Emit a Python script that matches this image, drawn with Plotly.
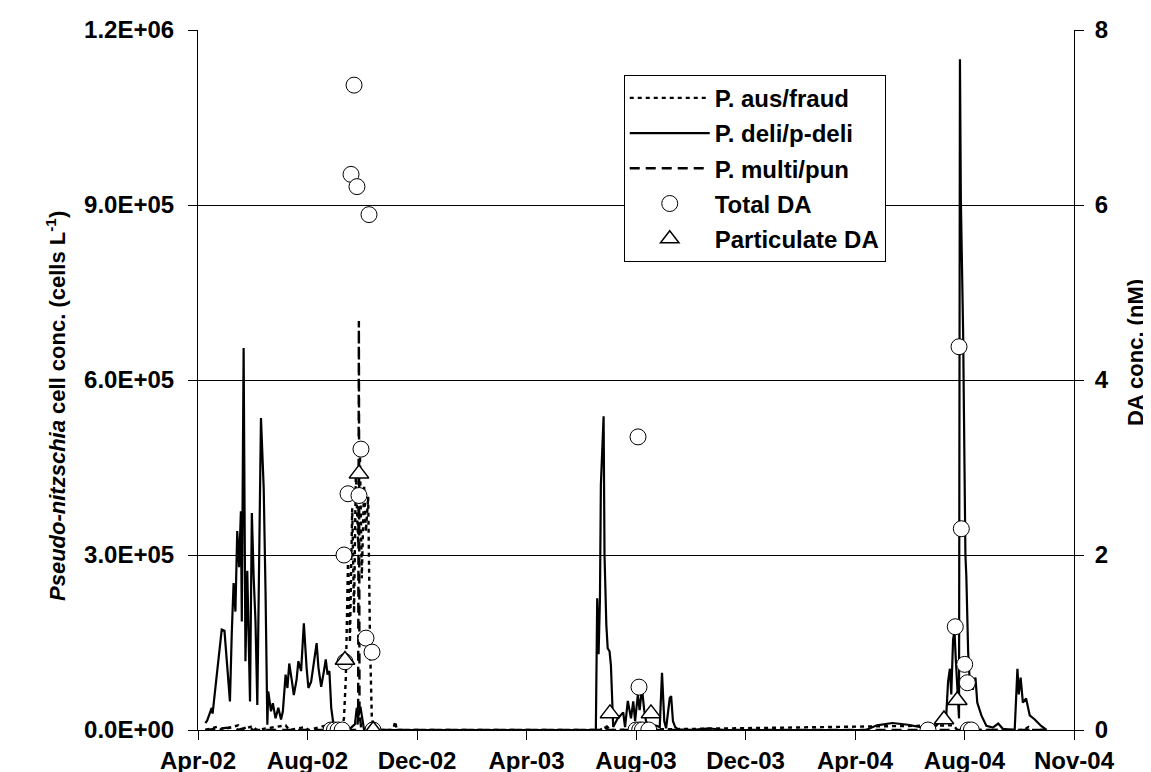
import pandas as pd
import plotly.graph_objects as go

# ---------------- data ----------------
T0 = pd.Timestamp("2002-04-15")          # start of axis / sampling day 0

# P. deli/p-deli (10^3 cells L-1) vs. sampling day
deli_day = [8, 10, 15, 16, 20, 23, 26, 29, 32, 35, 37, 39, 41, 43, 45, 47, 48, 50, 52, 54,
            57, 59, 61, 63, 65, 66, 69, 70, 72, 74, 76, 77, 80, 82, 85, 88, 91, 93, 96, 98,
            100, 103, 105, 108, 110, 113, 116, 119, 121, 124, 127, 130, 132, 135, 138, 140,
            142, 144, 146, 149, 152, 160, 165, 172, 174, 176, 178, 180, 182,
            436, 437, 437.5, 439, 440.5, 441.5, 443, 444.5, 445.5, 446.5, 447.5, 449, 451,
            452.5, 453.5, 455, 460, 466, 468, 471, 474.5, 477, 479, 482, 484, 486.5, 489, 491,
            495, 501, 506, 508.5, 511, 513, 517, 518.5, 520.5, 523, 526, 540, 560, 575,
            732, 744, 761, 778, 794.5, 805.5, 820, 822, 824, 825.5, 827.5, 829, 830.5, 832.5,
            833.5, 834, 835, 836, 838.5, 839.5, 841, 842, 843, 844, 845.5, 849, 852, 854,
            858.5, 864, 871, 877, 882, 895, 898, 899.5, 901.5, 904, 907.5, 911.5, 917, 924, 930]
deli_k = [12, 16, 38, 28, 86, 135, 172, 170, 114, 49, 166, 252, 203, 341, 279, 375, 186, 655, 118, 273,
          49, 372, 262, 186, 43, 180, 535, 495, 415, 238, 9, 66, 32, 46, 20, 38, 18, 32, 95, 72,
          114, 83, 60, 86, 118, 101, 183, 107, 72, 83, 114, 149, 107, 74, 101, 121,
          95, 101, 38, 3, 0, 2, 0, 10, 38, 25, 40, 15, 0,
          0, 118, 226, 130, 226, 420, 480, 538, 300, 200, 180, 140, 135,
          111, 60, 5, 20, 30, 5, 50, 20, 49, 15, 60, 34, 72, 34, 15,
          5, 8, 5, 98, 15, 3, 55, 58, 15, 5, 1, 0, 3, 0,
          0, 8, 12, 9, 4, 2, 25, 83, 105, 61, 155, 170, 120, 60,
          30, 20, 1150, 910, 680, 480, 300, 264, 192, 134, 90, 69, 90, 47,
          25, 7, 4, 11, 2, 0, 105, 61, 90, 47, 54, 25, 18, 7, 0]

# P. aus/fraud (10^3 cells L-1)
aus_day = [8, 22, 26, 44, 48, 60, 64, 96, 100, 117, 121, 143, 147, 157, 160, 162, 164.5, 166.5,
           169, 171, 173, 175.5, 177.5, 179.5, 182, 184, 186.5, 188.5, 190.5, 193, 214, 216, 218,
           440, 448, 452, 828, 832, 905, 910, 914, 930]
aus_k = [0, 6, 0, 8, 0, 7, 0, 8, 0, 5, 0, 9, 0, 0, 20, 90, 300, 150,
         380, 200, 440, 320, 470, 260, 420, 340, 400, 150, 20, 0, 0, 15, 0,
         0, 6, 0, 8, 0, 0, 5, 0, 0]

# P. multi/pun (10^3 cells L-1)
multi_day = [8, 40, 44, 56, 60, 174, 175.5, 176.3, 177, 179, 440, 446, 450, 930]
multi_k = [0, 5, 0, 6, 0, 0, 20, 701, 30, 0, 0, 4, 0, 0]

# Total DA (nM)
tda_day = [145.8, 149.5, 153.5, 158, 160, 161.1, 164.4, 167.7, 171, 174.2, 176.4, 178.6,
           184.1, 187.4, 190.7, 191.8,
           480, 482.2, 483.3, 484, 487, 494,
           800, 829.9, 834, 836.5, 840.2, 843.1, 844, 847.5]
tda_nM = [0, 0, 0, 0, 2.0, 0.78, 2.70, 6.35, 7.37, 6.21, 2.68, 3.21,
          1.05, 5.89, 0.89, 0,
          0, 3.35, 0.49, 0, 0, 0,
          0, 1.18, 4.38, 2.3, 0.75, 0.54, 0, 0]

# Particulate DA (nM)
pda_day = [161.1, 176.4, 192, 451.5, 496.4, 817.5, 832.1]
pda_nM = [0.8, 2.93, 0, 0.19, 0.19, 0.12, 0.34]

x_ticklabels = ["Apr-02", "Aug-02", "Dec-02", "Apr-03", "Aug-03", "Dec-03", "Apr-04", "Aug-04", "Nov-04"]
y_tickvals = [0, 3e5, 6e5, 9e5, 1.2e6]
y_ticklabels = ["0.0E+00", "3.0E+05", "6.0E+05", "9.0E+05", "1.2E+06"]
y2_tickvals = [0, 2, 4, 6, 8]
y_title = "<i>Pseudo-nitzschia</i> cell conc. (cells L<sup>-1</sup>)"
y2_title = "DA conc. (nM)"

# ---------------- figure ----------------
def to_date(days):
    return T0 + pd.to_timedelta(pd.Series(days, dtype=float), unit="D")

FONT = "Liberation Sans, Arial, sans-serif"
TICK_STEP = 120
x_tickvals = [T0 + pd.Timedelta(days=TICK_STEP * i) for i in range(len(x_ticklabels))]

fig = go.Figure()
fig.add_trace(go.Scatter(x=to_date(aus_day), y=[v * 1000 for v in aus_k], mode="lines",
                         name="P. aus/fraud", legendgroup="a",
                         line=dict(color="black", width=2.4, dash="4px,4px")))
fig.add_trace(go.Scatter(x=to_date(deli_day), y=[v * 1000 for v in deli_k], mode="lines",
                         name="P. deli/p-deli", legendgroup="b",
                         line=dict(color="black", width=2.2)))
fig.add_trace(go.Scatter(x=to_date(multi_day), y=[v * 1000 for v in multi_k], mode="lines",
                         name="P. multi/pun", legendgroup="c",
                         line=dict(color="black", width=2.4, dash="10px,6px")))
fig.add_trace(go.Scatter(x=to_date(tda_day), y=tda_nM, mode="markers", yaxis="y2",
                         name="Total DA", legendgroup="d",
                         marker=dict(symbol="circle", size=16, color="white",
                                     line=dict(color="black", width=1))))
fig.add_trace(go.Scatter(x=to_date(pda_day), y=pda_nM, mode="markers", yaxis="y2",
                         name="Particulate DA", legendgroup="e",
                         marker=dict(symbol="triangle-up", size=17, color="white",
                                     line=dict(color="black", width=1.5))))

tickfont = dict(family=FONT, size=24, color="black", weight="bold")
titlefont = dict(family=FONT, size=22, color="black", weight="bold")

fig.update_layout(
    width=1151, height=772,
    margin=dict(l=190, r=85, t=22, b=50, autoexpand=False),
    paper_bgcolor="white", plot_bgcolor="white",
    font=dict(family=FONT, color="black"),
    showlegend=True,
    legend=dict(x=0.486, y=0.936, xanchor="left", yanchor="top",
                bgcolor="white", bordercolor="black", borderwidth=1,
                font=dict(family=FONT, size=24, color="black", weight="bold"),
                tracegroupgap=1, itemwidth=80),
    xaxis=dict(type="date", range=[x_tickvals[0], x_tickvals[-1]],
               tickvals=x_tickvals, ticktext=x_ticklabels,
               ticks="outside", ticklen=9, tickcolor="black",
               showline=True, linecolor="black", linewidth=1,
               showgrid=False, zeroline=False, tickfont=tickfont,
               automargin=False),
    yaxis=dict(range=[0, 1.2e6], tickvals=y_tickvals, ticktext=y_ticklabels,
               ticks="outside", ticklen=9, tickcolor="black",
               showline=True, linecolor="black", linewidth=1,
               showgrid=True, gridcolor="black", gridwidth=1, zeroline=False,
               tickfont=tickfont, ticklabelstandoff=9, automargin=False),
    yaxis2=dict(overlaying="y", side="right", range=[0, 8], tickvals=y2_tickvals,
                ticks="outside", ticklen=9, tickcolor="black",
                showline=True, linecolor="black", linewidth=1,
                showgrid=False, zeroline=False, tickfont=tickfont,
                ticklabelstandoff=6, automargin=False),
    annotations=[
        dict(text=y_title, textangle=-90, xref="paper", yref="paper",
             x=-0.162, y=0.463, xanchor="center", yanchor="middle",
             showarrow=False, font=titlefont),
        dict(text=y2_title, textangle=-90, xref="paper", yref="paper",
             x=1.07, y=0.539, xanchor="center", yanchor="middle",
             showarrow=False, font=titlefont),
    ],
)

fig.write_html("out.html")
